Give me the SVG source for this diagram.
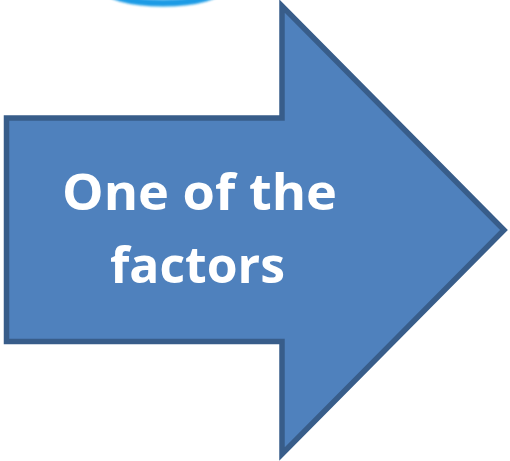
<svg xmlns="http://www.w3.org/2000/svg" width="510" height="461" viewBox="0 0 510 461">
  <defs>
    <filter id="soft" x="-20%" y="-50%" width="140%" height="200%">
      <feGaussianBlur stdDeviation="0.8"/>
    </filter>
  </defs>
  <style>
    .arrow { fill: #4F81BD; stroke: #385D8A; stroke-width: 5.5; stroke-linejoin: miter; stroke-miterlimit: 10; }
    .label { fill: #FFFFFF; font-family: "Open Sans", "Liberation Sans", sans-serif; font-weight: bold; font-size: 50px; text-anchor: middle; }
  </style>
  <rect width="510" height="461" fill="#FFFFFF"/>
  <g id="top-shape">
    <ellipse cx="163" cy="-14" rx="60" ry="17" fill="none" stroke="#1E9BE5" stroke-width="7" filter="url(#soft)"/>
  </g>
  <g id="arrow">
    <path class="arrow" d="M6.5,118 L282,118 L282,6 L504,230 L282,454 L282,341.5 L6.5,341.5 Z"/>
    <text class="label" x="199.5" y="210" textLength="275" lengthAdjust="spacingAndGlyphs">One of the</text>
    <text class="label" x="197.5" y="283" textLength="175" lengthAdjust="spacingAndGlyphs">factors</text>
  </g>
</svg>
